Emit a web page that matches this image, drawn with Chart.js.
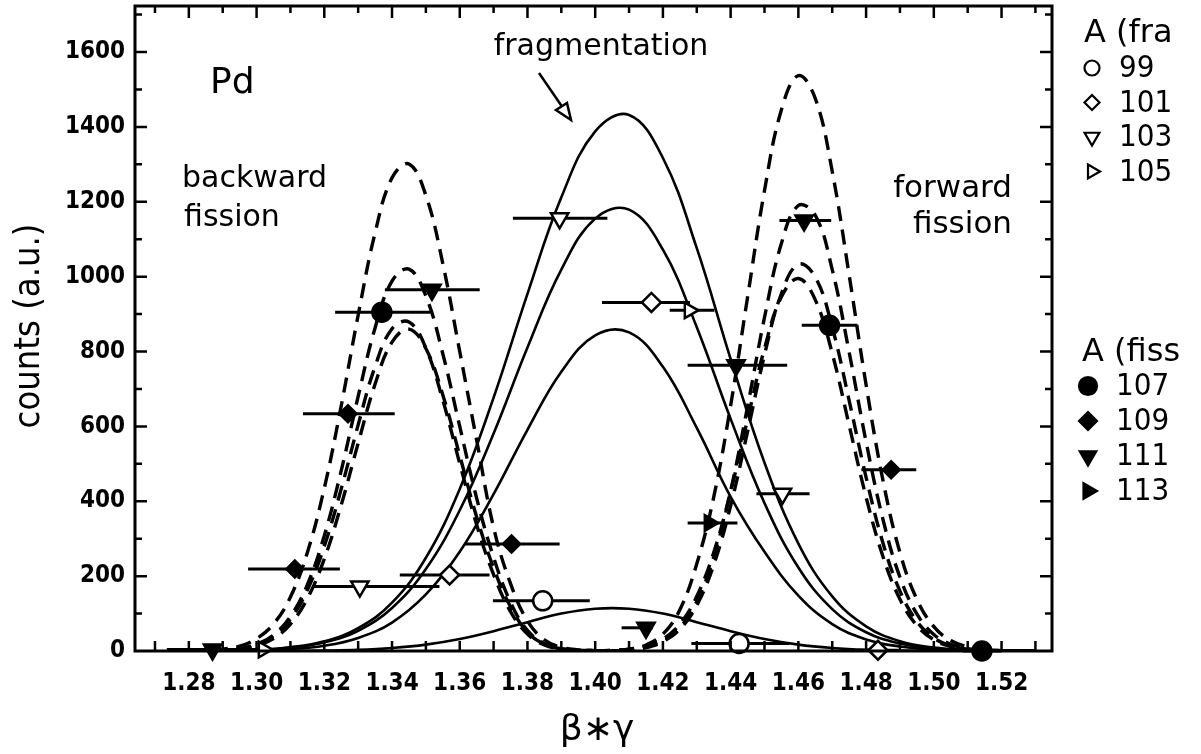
<!DOCTYPE html>
<html>
<head>
<meta charset="utf-8">
<script src="https://cdn.jsdelivr.net/npm/chart.js@4.4.1/dist/chart.umd.min.js"></script>
<style>
  html, body { margin: 0; padding: 0; background: #fff; }
  canvas { display: block; }
</style>
</head>
<body>
<canvas id="grafico" width="1201" height="754"></canvas>
<script>
// Curvas de fragmentación (líneas continuas)
const xFrag = [1.28, 1.29, 1.30, 1.31, 1.32, 1.33, 1.34, 1.35, 1.36, 1.37, 1.38, 1.39, 1.40,
  1.41, 1.42, 1.43, 1.44, 1.45, 1.46, 1.47, 1.48, 1.49, 1.50, 1.51, 1.52, 1.53]
const fragA = [0, 1, 3, 10, 26, 61, 129, 249, 433, 677, 954, 1212, 1388, 1432, 1317, 1076, 780, 503, 287, 146, 66, 26, 9, 3, 1, 0]
const fragB = [0, 1, 3, 9, 23, 54, 115, 219, 376, 581, 811, 1019, 1155, 1179, 1072, 865, 620, 395, 223, 112, 50, 20, 7, 2, 1, 0]
const fragC = [0, 0, 2, 5, 14, 35, 76, 151, 265, 419, 591, 746, 843, 851, 759, 596, 412, 265, 148, 72, 31, 12, 4, 1, 0, 0]
const fragD = [0, 0, 0, 0, 1, 3, 8, 17, 32, 53, 77, 100, 113, 113, 100, 77, 53, 32, 17, 8, 3, 1, 0, 0, 0, 0]

// Fisión hacia atrás (rayas)
const xAtras = [1.280, 1.285, 1.290, 1.295, 1.300, 1.305, 1.310, 1.315, 1.320, 1.325, 1.330, 1.335, 1.340,
  1.345, 1.350, 1.355, 1.360, 1.365, 1.370, 1.375, 1.380, 1.385, 1.390, 1.395, 1.400, 1.405, 1.410]
const atrasA = [1, 2, 5, 13, 33, 72, 144, 263, 435, 655, 897, 1117, 1264, 1301, 1217, 1035, 800, 563, 330, 180, 80, 30, 10, 3, 1, 0, 0]
const atrasB = [0, 1, 2, 7, 18, 43, 92, 177, 308, 482, 680, 863, 988, 1020, 948, 794, 600, 408, 250, 130, 55, 20, 6, 2, 1, 0, 0]
const atrasC = [0, 1, 2, 7, 17, 40, 85, 163, 280, 433, 604, 760, 861, 879, 809, 670, 501, 337, 204, 105, 45, 16, 5, 2, 1, 0, 0]
const atrasD = [0, 1, 2, 5, 14, 33, 72, 140, 246, 390, 555, 713, 825, 860, 808, 684, 522, 358, 222, 118, 50, 18, 6, 2, 1, 0, 0]

// Fisión hacia adelante (rayas)
const xAdelante = [1.400, 1.405, 1.410, 1.415, 1.420, 1.425, 1.430, 1.435, 1.440, 1.445, 1.450, 1.455, 1.460,
  1.465, 1.470, 1.475, 1.480, 1.485, 1.490, 1.495, 1.500, 1.505, 1.510, 1.515, 1.520, 1.525, 1.530]
const adelanteA = [1, 1.5, 5, 16, 45, 110, 233, 411, 656, 945, 1230, 1446, 1537, 1476, 1281, 1004, 711, 455, 263, 138, 65, 28, 11, 4, 1, 0, 0]
const adelanteB = [0, 1, 3, 10, 26, 62, 132, 251, 428, 653, 891, 1089, 1190, 1164, 1019, 798, 559, 351, 197, 99, 44, 18, 6, 2, 1, 0, 0]
const adelanteC = [0, 1, 3, 9, 25, 58, 122, 230, 388, 586, 791, 955, 1033, 999, 865, 669, 464, 288, 160, 79, 35, 14, 5, 2, 1, 0, 0]
const adelanteD = [0, 2, 5, 13, 32, 72, 146, 263, 426, 619, 808, 946, 995, 938, 795, 603, 411, 252, 138, 68, 30, 12, 4, 2, 0, 0, 0]

// Puntos medidos: posición, valor y barra horizontal (desde, hasta)
const x99 = [1.3845, 1.4425]
const y99 = [134, 20]
const desde99 = [1.3698, 1.4284]
const hasta99 = [1.3984, 1.4574]

const x101 = [1.357, 1.4166, 1.4835]
const y101 = [203, 931, 2]
const desde101 = [1.3423, 1.4020, 1.4775]
const hasta101 = [1.3688, 1.4280, 1.4895]

const x103 = [1.3305, 1.3895, 1.4553]
const y103 = [172, 1156, 420]
const desde103 = [1.3167, 1.3757, 1.4476]
const hasta103 = [1.3540, 1.4036, 1.4633]

const x105 = [1.302, 1.4278]
const y105 = [4, 910]
const desde105 = [1.2965, 1.4220]
const hasta105 = [1.3080, 1.4352]

const x107 = [1.337, 1.4692, 1.5142]
const y107 = [905, 870, 0]
const desde107 = [1.3232, 1.4610, 1.5085]
const hasta107 = [1.3520, 1.4774, 1.5200]

const x109 = [1.3113, 1.3270, 1.3753, 1.4874]
const y109 = [219, 634, 286, 484]
const desde109 = [1.2975, 1.3137, 1.3615, 1.4786]
const hasta109 = [1.3246, 1.3408, 1.3895, 1.4948]

const x111 = [1.287, 1.3518, 1.415, 1.4416, 1.4617]
const y111 = [4, 965, 62, 763, 1150]
const desde111 = [1.2735, 1.3379, 1.4078, 1.4273, 1.4544]
const hasta111 = [1.2990, 1.3659, 1.4170, 1.4567, 1.4697]

const x113 = [1.4337]
const y113 = [342]
const desde113 = [1.4273]
const hasta113 = [1.4420]

const leyendaFrag = ['99', '101', '103', '105']
const leyendaFision = ['107', '109', '111', '113']

const fuenteNum = "'DejaVu Sans Condensed', 'Liberation Sans Narrow', 'DejaVu Sans', sans-serif"
const fuenteTexto = "'DejaVu Sans', sans-serif"

function puntos(xs, ys) {
  return xs.map((x, i) => ({ x: x, y: ys[i] }))
}

function lineaSolida(xs, ys) {
  return {
    type: 'line', data: puntos(xs, ys), borderColor: '#000', borderWidth: 2.6,
    pointRadius: 0, tension: 0.4, fill: false, order: 3
  }
}

function lineaRayas(xs, ys) {
  return {
    type: 'line', data: puntos(xs, ys), borderColor: '#000', borderWidth: 3.4,
    borderDash: [15, 9], pointRadius: 0, tension: 0.4, fill: false, order: 2
  }
}

function marcas(xs, ys, forma, giro, radio, lleno) {
  return {
    type: 'scatter', data: puntos(xs, ys), pointStyle: forma, rotation: giro,
    pointRadius: radio, pointBackgroundColor: lleno ? '#000' : '#fff',
    pointBorderColor: '#000', pointBorderWidth: 2.5, order: 1, clip: false
  }
}

const barras = [
  [x99, y99, desde99, hasta99], [x101, y101, desde101, hasta101],
  [x103, y103, desde103, hasta103], [x105, y105, desde105, hasta105],
  [x107, y107, desde107, hasta107], [x109, y109, desde109, hasta109],
  [x111, y111, desde111, hasta111], [x113, y113, desde113, hasta113]
]

// Marca de leyenda dibujada a mano
function dibujarMarca(ctx, forma, cx, cy, r, lleno) {
  ctx.beginPath()
  if (forma === 'circulo') {
    ctx.arc(cx, cy, r, 0, Math.PI * 2)
  } else if (forma === 'rombo') {
    ctx.moveTo(cx, cy - r); ctx.lineTo(cx + r, cy); ctx.lineTo(cx, cy + r); ctx.lineTo(cx - r, cy); ctx.closePath()
  } else if (forma === 'abajo') {
    ctx.moveTo(cx - r * 0.87, cy - r * 0.5); ctx.lineTo(cx + r * 0.87, cy - r * 0.5); ctx.lineTo(cx, cy + r); ctx.closePath()
  } else {
    ctx.moveTo(cx - r * 0.5, cy - r * 0.87); ctx.lineTo(cx + r, cy); ctx.lineTo(cx - r * 0.5, cy + r * 0.87); ctx.closePath()
  }
  ctx.fillStyle = lleno ? '#000' : '#fff'
  ctx.fill()
  ctx.lineWidth = 2.2
  ctx.strokeStyle = '#000'
  ctx.stroke()
}

const marcoPlugin = {
  id: 'marco',
  beforeDatasetsDraw(chart) {
    const ctx = chart.ctx
    const sx = chart.scales.x
    const sy = chart.scales.y
    ctx.save()
    ctx.strokeStyle = '#000'
    ctx.lineWidth = 3
    barras.forEach(b => {
      b[0].forEach((_, i) => {
        const py = sy.getPixelForValue(b[1][i])
        ctx.beginPath()
        ctx.moveTo(sx.getPixelForValue(b[2][i]), py)
        ctx.lineTo(sx.getPixelForValue(b[3][i]), py)
        ctx.stroke()
      })
    })
    ctx.restore()
  },
  afterDraw(chart) {
    const ctx = chart.ctx
    const a = chart.chartArea
    const sx = chart.scales.x
    const sy = chart.scales.y
    ctx.save()
    ctx.strokeStyle = '#000'
    ctx.fillStyle = '#000'

    // marco
    ctx.lineWidth = 3
    ctx.strokeRect(a.left, a.top, a.right - a.left, a.bottom - a.top)

    // marcas hacia adentro
    ctx.lineWidth = 2.5
    ctx.beginPath()
    for (let k = 127; k <= 153; k++) {
      const px = sx.getPixelForValue(k / 100)
      if (px <= a.left + 2 || px >= a.right - 2) continue
      const largoArriba = k % 2 === 0 ? 12 : 7
      ctx.moveTo(px, a.bottom); ctx.lineTo(px, a.bottom - 10)
      ctx.moveTo(px, a.top); ctx.lineTo(px, a.top + largoArriba)
    }
    for (let v = 100; v <= 1700; v += 100) {
      const py = sy.getPixelForValue(v)
      const largo = v % 200 === 0 ? 12 : 7
      ctx.moveTo(a.left, py); ctx.lineTo(a.left + largo, py)
      ctx.moveTo(a.right, py); ctx.lineTo(a.right - largo, py)
    }
    ctx.stroke()

    // títulos de ejes
    ctx.save()
    ctx.translate(30, 326)
    ctx.rotate(-Math.PI / 2)
    ctx.font = '36px ' + fuenteNum
    ctx.textAlign = 'center'
    ctx.textBaseline = 'middle'
    ctx.fillText('counts (a.u.)', 0, 0)
    ctx.restore()

    ctx.font = '36px ' + fuenteTexto
    ctx.textAlign = 'center'
    ctx.textBaseline = 'alphabetic'
    ctx.fillText('β∗γ', 597, 740)

    // anotaciones
    ctx.font = '36px ' + fuenteTexto
    ctx.textAlign = 'left'
    ctx.fillText('Pd', 210, 93)
    ctx.font = '30px ' + fuenteTexto
    ctx.fillText('backward', 182, 187)
    ctx.fillText('fission', 184, 226)
    ctx.textAlign = 'right'
    ctx.font = '31px ' + fuenteTexto
    ctx.fillText('forward', 1012, 197)
    ctx.fillText('fission', 1012, 233)
    ctx.textAlign = 'center'
    ctx.font = '30px ' + fuenteTexto
    ctx.fillText('fragmentation', 601, 55)

    // flecha
    ctx.lineWidth = 2.5
    ctx.beginPath()
    ctx.moveTo(539, 73)
    ctx.lineTo(563, 108)
    ctx.stroke()
    ctx.beginPath()
    ctx.moveTo(571, 120)
    ctx.lineTo(556, 110)
    ctx.lineTo(567, 103)
    ctx.closePath()
    ctx.fillStyle = '#fff'
    ctx.fill()
    ctx.stroke()
    ctx.fillStyle = '#000'

    // leyenda
    ctx.textAlign = 'left'
    ctx.textBaseline = 'middle'
    ctx.font = '32px ' + fuenteTexto
    ctx.fillText('A (fra', 1084, 34)
    ctx.fillText('A (fiss', 1082, 353)
    const formasFrag = ['circulo', 'rombo', 'abajo', 'derecha']
    const radiosFrag = [7.5, 7.5, 8.5, 8]
    leyendaFrag.forEach((t, i) => {
      const cy = 68 + i * 34.5
      dibujarMarca(ctx, formasFrag[i], 1092, cy, radiosFrag[i], false)
      ctx.fillStyle = '#000'
      ctx.font = '31px ' + fuenteNum
      ctx.fillText(t, 1119, cy + 1)
    })
    const radiosFision = [9, 9, 9.5, 9]
    leyendaFision.forEach((t, i) => {
      const cy = 386 + i * 35
      dibujarMarca(ctx, formasFrag[i], 1088, cy, radiosFision[i], true)
      ctx.fillStyle = '#000'
      ctx.font = '31px ' + fuenteNum
      ctx.fillText(t, 1116, cy + 1)
    })
    ctx.restore()
  }
}

new Chart(document.getElementById('grafico'), {
  type: 'scatter',
  data: {
    datasets: [
      lineaSolida(xFrag, fragA), lineaSolida(xFrag, fragB),
      lineaSolida(xFrag, fragC), lineaSolida(xFrag, fragD),
      lineaRayas(xAtras, atrasA), lineaRayas(xAtras, atrasB),
      lineaRayas(xAtras, atrasC), lineaRayas(xAtras, atrasD),
      lineaRayas(xAdelante, adelanteA), lineaRayas(xAdelante, adelanteB),
      lineaRayas(xAdelante, adelanteC), lineaRayas(xAdelante, adelanteD),
      marcas(x99, y99, 'circle', 0, 9.5, false),
      marcas(x101, y101, 'rectRot', 0, 9.5, false),
      marcas(x103, y103, 'triangle', 180, 10, false),
      marcas(x105, y105, 'triangle', 90, 9, false),
      marcas(x107, y107, 'circle', 0, 9.5, true),
      marcas(x109, y109, 'rectRot', 0, 8.5, true),
      marcas(x111, y111, 'triangle', 180, 10, true),
      marcas(x113, y113, 'triangle', 90, 9, true)
    ]
  },
  options: {
    responsive: false,
    devicePixelRatio: 1,
    animation: false,
    layout: { autoPadding: false, padding: { left: 0, right: 149, top: 6, bottom: 0 } },
    plugins: { legend: { display: false }, tooltip: { enabled: false } },
    scales: {
      x: {
        type: 'linear', min: 1.2641, max: 1.5349,
        afterFit: s => { s.height = 103; s.paddingLeft = 0; s.paddingRight = 0; s.paddingTop = 0; s.paddingBottom = 0 },
        grid: { display: false, drawTicks: false },
        border: { display: false },
        ticks: {
          stepSize: 0.01, autoSkip: false, maxRotation: 0, includeBounds: false, padding: 18,
          color: '#000', font: { family: fuenteNum, size: 24, weight: 'bold' },
          callback: v => {
            const k = Math.round(v * 100)
            if (Math.abs(v * 100 - k) > 1e-6) return null
            return k % 2 === 0 ? v.toFixed(2) : null
          }
        }
      },
      y: {
        min: 0, max: 1723,
        afterFit: s => { s.width = 135; s.paddingLeft = 0; s.paddingRight = 0; s.paddingTop = 0; s.paddingBottom = 0 },
        grid: { display: false, drawTicks: false },
        border: { display: false },
        ticks: {
          stepSize: 100, autoSkip: false, includeBounds: false, padding: 10,
          color: '#000', font: { family: fuenteNum, size: 24, weight: 'bold' },
          callback: v => (v % 200 === 0 ? String(v) : null)
        }
      }
    }
  },
  plugins: [marcoPlugin]
})
</script>
</body>
</html>
